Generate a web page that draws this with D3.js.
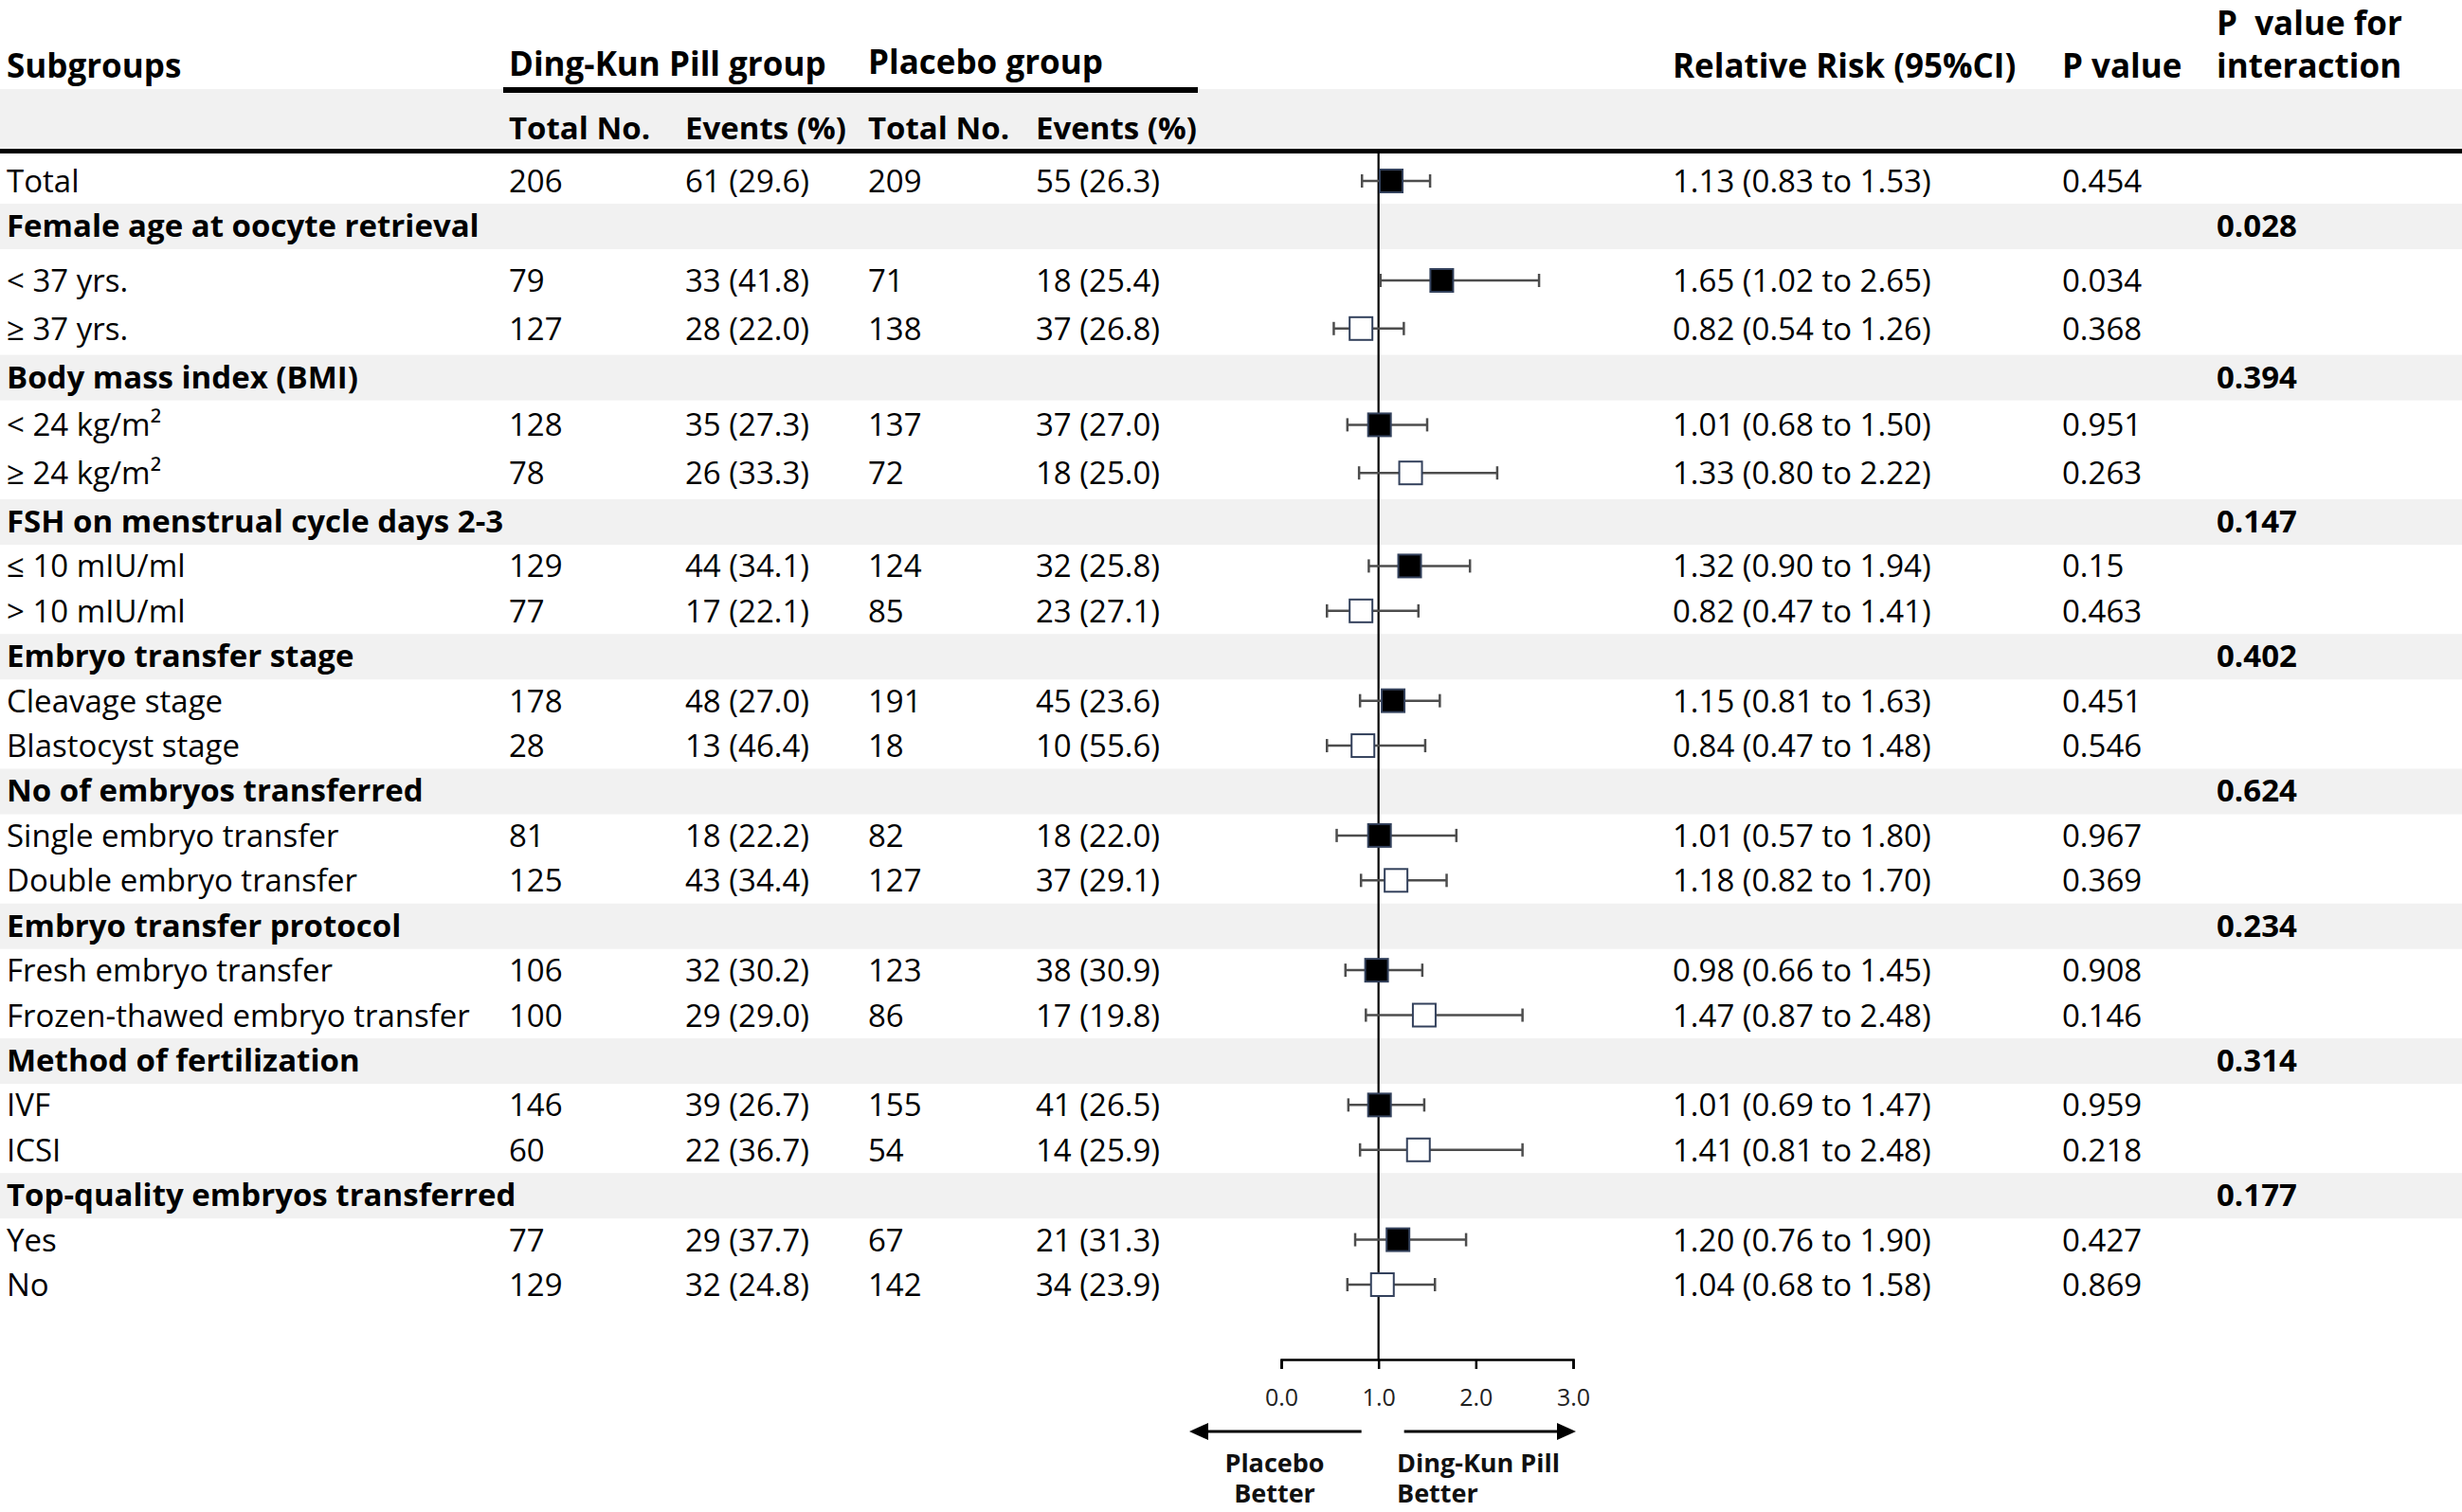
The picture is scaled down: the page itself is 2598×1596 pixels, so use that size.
<!DOCTYPE html>
<html>
<head>
<meta charset="utf-8">
<script src="https://cdn.jsdelivr.net/npm/d3@7"></script>
<style>
  html, body { margin: 0; padding: 0; background: #fff; }
  svg { display: block; font-family: 'Open Sans', Lato, sans-serif; }
  .cell { font-size: 33px; fill: #000; }
  .head { font-size: 35px; }
  .bold { font-weight: 700; }
</style>
</head>
<body>
<svg id="chart" width="2598" height="1596"></svg>
<script>
// rows of the table, top to bottom (null = subgroup heading row)
const subgroups = [
  'Total',
  'Female age at oocyte retrieval', '< 37 yrs.', '≥ 37 yrs.',
  'Body mass index (BMI)', '< 24 kg/m²', '≥ 24 kg/m²',
  'FSH on menstrual cycle days 2-3', '≤ 10 mIU/ml', '> 10 mIU/ml',
  'Embryo transfer stage', 'Cleavage stage', 'Blastocyst stage',
  'No of embryos transferred', 'Single embryo transfer', 'Double embryo transfer',
  'Embryo transfer protocol', 'Fresh embryo transfer', 'Frozen-thawed embryo transfer',
  'Method of fertilization', 'IVF', 'ICSI',
  'Top-quality embryos transferred', 'Yes', 'No'
];
const dkTotal  = [206, null, 79, 127, null, 128, 78, null, 129, 77, null, 178, 28, null, 81, 125, null, 106, 100, null, 146, 60, null, 77, 129];
const dkEvents = [61, null, 33, 28, null, 35, 26, null, 44, 17, null, 48, 13, null, 18, 43, null, 32, 29, null, 39, 22, null, 29, 32];
const dkPct    = [29.6, null, 41.8, 22.0, null, 27.3, 33.3, null, 34.1, 22.1, null, 27.0, 46.4, null, 22.2, 34.4, null, 30.2, 29.0, null, 26.7, 36.7, null, 37.7, 24.8];
const plTotal  = [209, null, 71, 138, null, 137, 72, null, 124, 85, null, 191, 18, null, 82, 127, null, 123, 86, null, 155, 54, null, 67, 142];
const plEvents = [55, null, 18, 37, null, 37, 18, null, 32, 23, null, 45, 10, null, 18, 37, null, 38, 17, null, 41, 14, null, 21, 34];
const plPct    = [26.3, null, 25.4, 26.8, null, 27.0, 25.0, null, 25.8, 27.1, null, 23.6, 55.6, null, 22.0, 29.1, null, 30.9, 19.8, null, 26.5, 25.9, null, 31.3, 23.9];
const rr       = [1.13, null, 1.65, 0.82, null, 1.01, 1.33, null, 1.32, 0.82, null, 1.15, 0.84, null, 1.01, 1.18, null, 0.98, 1.47, null, 1.01, 1.41, null, 1.20, 1.04];
const ciLow    = [0.83, null, 1.02, 0.54, null, 0.68, 0.80, null, 0.90, 0.47, null, 0.81, 0.47, null, 0.57, 0.82, null, 0.66, 0.87, null, 0.69, 0.81, null, 0.76, 0.68];
const ciHigh   = [1.53, null, 2.65, 1.26, null, 1.50, 2.22, null, 1.94, 1.41, null, 1.63, 1.48, null, 1.80, 1.70, null, 1.45, 2.48, null, 1.47, 2.48, null, 1.90, 1.58];
const pValue   = ['0.454', null, '0.034', '0.368', null, '0.951', '0.263', null, '0.15', '0.463', null, '0.451', '0.546', null, '0.967', '0.369', null, '0.908', '0.146', null, '0.959', '0.218', null, '0.427', '0.869'];
const pInteraction = [null, '0.028', null, null, '0.394', null, null, '0.147', null, null, '0.402', null, null, '0.624', null, null, '0.234', null, null, '0.314', null, null, '0.177', null, null];
const axisTicks = [0, 1, 2, 3];

const W = 2598, H = 1596;
const svg = d3.select('#chart');

// column x positions
const col = { label: 7, dkN: 537, dkE: 723, plN: 916, plE: 1093, rr: 1765, p: 2176, pint: 2339 };

const x = d3.scaleLinear().domain([0, 3]).range([1352, 1660]);
// text baseline of each row
const y = d3.scaleLinear().domain([0, 1, 2, 7, 24]).range([203, 250, 308, 562, 1368]);
const axisY = 1435;

const rows = subgroups.map((label, i) => ({
  i, label,
  group: rr[i] === null,
  filled: i === 0 || rr[i - 1] === null
}));

/*
 ** Background bands
 */
svg.append('rect').attr('x', 0).attr('y', 94).attr('width', W).attr('height', 61).attr('fill', '#f1f1f1');

svg.append('g')
  .selectAll('rect')
  .data(rows.filter(d => d.group))
  .enter()
  .append('rect')
  .attr('x', 0)
  .attr('y', d => y(d.i) - 35)
  .attr('width', W)
  .attr('height', 48)
  .attr('fill', '#f1f1f1');

/*
 ** Header
 */
const head = svg.append('g').attr('class', 'cell bold');
const headTop = head.append('g').attr('class', 'head');
headTop.append('text').attr('x', col.label).attr('y', 82).text('Subgroups');
headTop.append('text').attr('x', col.dkN).attr('y', 80).text('Ding-Kun Pill group');
headTop.append('text').attr('x', col.plN).attr('y', 78).text('Placebo group');
headTop.append('text').attr('x', col.rr).attr('y', 82).text('Relative Risk (95%CI)');
headTop.append('text').attr('x', col.p).attr('y', 82).text('P value');
headTop.append('text').attr('x', col.pint).attr('y', 37).style('white-space', 'pre').text('P  value for');
headTop.append('text').attr('x', col.pint).attr('y', 82).text('interaction');

['Total No.', 'Events (%)', 'Total No.', 'Events (%)'].forEach((t, k) => {
  head.append('text')
    .attr('x', [col.dkN, col.dkE, col.plN, col.plE][k])
    .attr('y', 147)
    .text(t);
});

svg.append('rect').attr('x', 531).attr('y', 92).attr('width', 733).attr('height', 6).attr('fill', '#000');
svg.append('rect').attr('x', 0).attr('y', 157).attr('width', W).attr('height', 5).attr('fill', '#000');

/*
 ** Table rows
 */
const rowG = svg.append('g')
  .selectAll('g.row')
  .data(rows)
  .enter()
  .append('g')
  .attr('class', 'row cell')
  .attr('transform', d => `translate(0, ${y(d.i)})`);

rowG.append('text')
  .attr('x', col.label)
  .attr('class', d => d.group ? 'bold' : null)
  .text(d => d.label);

const fmtEv = (e, p) => `${e} (${p.toFixed(1)})`;
const fmtRR = i => `${rr[i].toFixed(2)} (${ciLow[i].toFixed(2)} to ${ciHigh[i].toFixed(2)})`;

const body = rowG.filter(d => !d.group);
body.append('text').attr('x', col.dkN).text(d => dkTotal[d.i]);
body.append('text').attr('x', col.dkE).text(d => fmtEv(dkEvents[d.i], dkPct[d.i]));
body.append('text').attr('x', col.plN).text(d => plTotal[d.i]);
body.append('text').attr('x', col.plE).text(d => fmtEv(plEvents[d.i], plPct[d.i]));
body.append('text').attr('x', col.rr).text(d => fmtRR(d.i));
body.append('text').attr('x', col.p).text(d => pValue[d.i]);

rowG.filter(d => d.group)
  .append('text')
  .attr('x', col.pint)
  .attr('class', 'bold')
  .text(d => pInteraction[d.i]);

/*
 ** Forest plot
 */
svg.append('line')
  .attr('x1', x(1)).attr('x2', x(1))
  .attr('y1', 162).attr('y2', axisY)
  .attr('stroke', '#000')
  .attr('stroke-width', 2.2);

const mark = svg.append('g')
  .selectAll('g.mark')
  .data(rows.filter(d => !d.group))
  .enter()
  .append('g')
  .attr('class', 'mark')
  .attr('transform', d => `translate(0, ${y(d.i) - 12})`);

mark.append('line')
  .attr('x1', d => x(ciLow[d.i]))
  .attr('x2', d => x(ciHigh[d.i]))
  .attr('stroke', '#4d4d4d')
  .attr('stroke-width', 2.5);

mark.selectAll('line.cap')
  .data(d => [ciLow[d.i], ciHigh[d.i]])
  .enter()
  .append('line')
  .attr('class', 'cap')
  .attr('x1', v => x(v)).attr('x2', v => x(v))
  .attr('y1', -7).attr('y2', 7)
  .attr('stroke', '#4d4d4d')
  .attr('stroke-width', 2.5);

mark.append('rect')
  .attr('x', d => x(rr[d.i]) - 12)
  .attr('y', -12)
  .attr('width', 24)
  .attr('height', 24)
  .attr('fill', d => d.filled ? '#000' : '#fff')
  .attr('stroke', '#33415c')
  .attr('stroke-width', 2);

/*
 ** X-axis
 */
const xAxis = svg.append('g')
  .attr('transform', `translate(0, ${axisY})`)
  .call(d3.axisBottom(x)
    .tickValues(axisTicks)
    .tickFormat(d3.format('.1f'))
    .tickSize(10)
    .tickSizeOuter(10)
    .tickPadding(21));

xAxis.select('.domain').attr('stroke', '#000').attr('stroke-width', 2.5);
xAxis.selectAll('.tick line').attr('stroke', '#000').attr('stroke-width', 2.5);
xAxis.selectAll('.tick text')
  .attr('fill', '#222')
  .style('font-size', '25px')
  .style('font-family', "'Open Sans', sans-serif");

/*
 ** Direction arrows
 */
const arrowY = 1511;
const arrows = [
  { from: x(1) - 18, to: x(0) - 97 },
  { from: x(1) + 27, to: x(3) + 3 }
];
const arrowG = svg.append('g');
arrows.forEach(a => {
  const dir = Math.sign(a.to - a.from);
  arrowG.append('line')
    .attr('x1', a.from).attr('x2', a.to - dir * 16)
    .attr('y1', arrowY).attr('y2', arrowY)
    .attr('stroke', '#000')
    .attr('stroke-width', 3);
  arrowG.append('path')
    .attr('d', `M${a.to},${arrowY} L${a.to - dir * 20},${arrowY - 9} L${a.to - dir * 20},${arrowY + 9} Z`)
    .attr('fill', '#000');
});

const lab = svg.append('g')
  .style('font-size', '27px')
  .style('font-weight', 700)
  .attr('fill', '#111');
lab.append('text').attr('x', 1345).attr('y', 1554).attr('text-anchor', 'middle').text('Placebo');
lab.append('text').attr('x', 1345).attr('y', 1586).attr('text-anchor', 'middle').text('Better');
lab.append('text').attr('x', 1474).attr('y', 1554).text('Ding-Kun Pill');
lab.append('text').attr('x', 1474).attr('y', 1586).text('Better');
</script>
</body>
</html>
